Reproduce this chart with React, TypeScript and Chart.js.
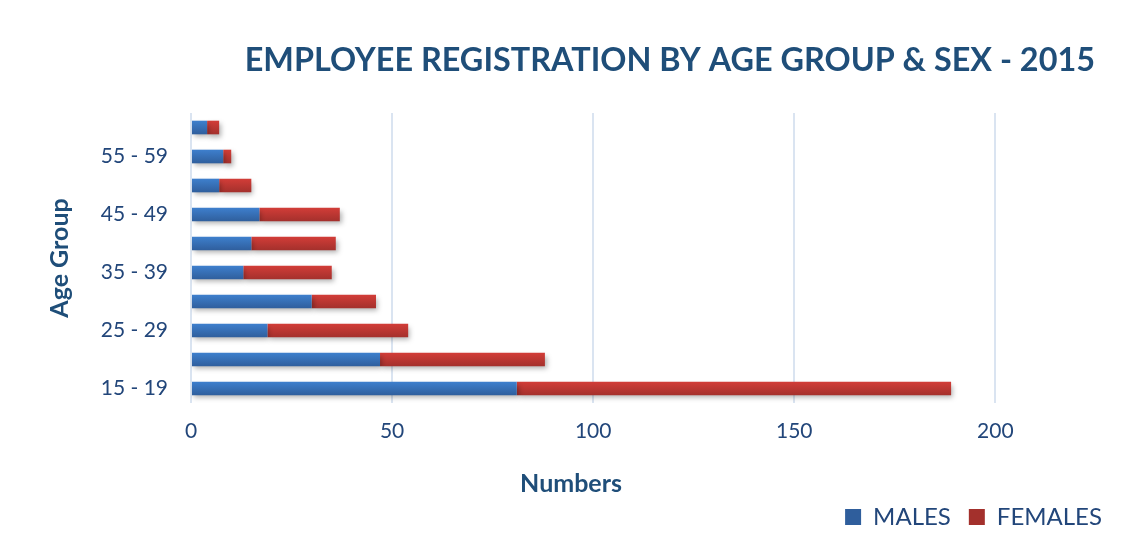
import React, { useEffect, useRef } from 'react';
import { Chart, registerables } from 'chart.js';

Chart.register(...registerables);

const TITLE = 'EMPLOYEE REGISTRATION BY AGE GROUP & SEX - 2015';
const X_TITLE = 'Numbers';
const Y_TITLE = 'Age Group';
const AGE_GROUPS = ['60 - 64', '55 - 59', '50 - 54', '45 - 49', '40 - 44', '35 - 39', '30 - 34', '25 - 29', '20 - 24', '15 - 19'];
const MALES = [4, 8, 7, 17, 15, 13, 30, 19, 47, 81];
const FEMALES = [3, 2, 8, 20, 21, 22, 16, 35, 41, 108];
const SERIES_NAMES = ['MALES', 'FEMALES'];
const X_TICK_STEP = 50;
const X_TICK_LAST = 200;
const X_AXIS_MAX = 231;
const X_TITLE_AT = 94.5;

const FONT = 'Lato';
const TITLE_COLOR = '#1F4E79';
const TICK_COLOR = '#22467A';
const GRID_COLOR = '#DAE4F1';

export default function App() {
  const ref = useRef<HTMLCanvasElement>(null);

  useEffect(() => {
    document.body.style.overflow = 'hidden';
    const canvas = ref.current;
    if (!canvas) return;

    const barFill = (top: string, bottom: string, flat: string) => (ctx: any) => {
      if (ctx.type !== 'data') return flat;
      const chart = ctx.chart;
      const y = chart.scales && chart.scales.y;
      if (!y) return flat;
      const c = y.getPixelForValue(ctx.dataIndex);
      if (!isFinite(c)) return flat;
      const g = chart.ctx.createLinearGradient(0, c - 7, 0, c + 7);
      g.addColorStop(0, top);
      g.addColorStop(1, bottom);
      return g;
    };

    const shadowPlugin = {
      id: 'barShadow',
      beforeDatasetsDraw(chart: any) {
        const c = chart.ctx;
        c.save();
        c.shadowColor = 'rgba(0,0,0,0.3)';
        c.shadowBlur = 5;
        c.shadowOffsetX = 2;
        c.shadowOffsetY = 3;
      },
      afterDatasetsDraw(chart: any) {
        chart.ctx.restore();
      },
    };

    const textPlugin = {
      id: 'customTexts',
      afterDraw(chart: any) {
        const s = chart.scales.x;
        const c = chart.ctx;
        c.save();
        c.fillStyle = TITLE_COLOR;
        c.textBaseline = 'middle';
        // chart title
        c.font = `bold 32.4px ${FONT}`;
        c.textAlign = 'right';
        c.fillText(TITLE, chart.width - 32, 53);
        // x axis title
        c.font = `bold 25px ${FONT}`;
        c.textAlign = 'center';
        c.fillText(X_TITLE, s.getPixelForValue(X_TITLE_AT), s.top + 81);
        c.restore();
      },
    };

    const chart = new Chart(canvas, {
      type: 'bar',
      data: {
        labels: AGE_GROUPS,
        datasets: [
          {
            label: SERIES_NAMES[0],
            data: MALES,
            backgroundColor: barFill('#3E80CE', '#2F5E9C', '#3670BC'),
            borderWidth: 0,
            barPercentage: 0.47,
            categoryPercentage: 1,
          },
          {
            label: SERIES_NAMES[1],
            data: FEMALES,
            backgroundColor: barFill('#D33D38', '#A3302C', '#C13834'),
            borderWidth: 0,
            barPercentage: 0.47,
            categoryPercentage: 1,
          },
        ],
      },
      options: {
        indexAxis: 'y',
        animation: false,
        responsive: true,
        maintainAspectRatio: false,
        layout: { padding: { left: 0, right: 7, top: 105, bottom: -4 } },
        scales: {
          x: {
            stacked: true,
            min: 0,
            max: X_AXIS_MAX,
            afterBuildTicks: (scale: any) => {
              scale.ticks = scale.ticks.filter((t: any) => t.value <= X_TICK_LAST);
            },
            afterFit: (scale: any) => {
              scale.height = 84;
            },
            ticks: {
              stepSize: X_TICK_STEP,
              padding: 16,
              color: TICK_COLOR,
              font: { family: FONT, size: 21 },
            },
            grid: { color: GRID_COLOR, lineWidth: 2, drawTicks: false },
            border: { display: false },
          },
          y: {
            stacked: true,
            afterFit: (scale: any) => {
              scale.width = 183;
            },
            ticks: {
              autoSkip: false,
              padding: 15,
              color: TICK_COLOR,
              font: { family: FONT, size: 21 },
              callback: (_v: any, i: number) => (i % 2 === 1 ? AGE_GROUPS[i] : ''),
            },
            grid: { display: false },
            border: { display: false },
            title: {
              display: true,
              text: Y_TITLE,
              color: TITLE_COLOR,
              font: { family: FONT, size: 25, weight: 'bold', lineHeight: 1.2 },
              padding: { top: 37, bottom: 0 },
            },
          },
        },
        plugins: {
          title: { display: false },
          legend: {
            position: 'bottom',
            align: 'end',
            labels: {
              boxWidth: 16,
              boxHeight: 16,
              padding: 18,
              color: TICK_COLOR,
              font: { family: FONT, size: 24 },
            },
          },
          tooltip: { enabled: false },
        },
      },
      plugins: [shadowPlugin, textPlugin],
    } as any);

    return () => chart.destroy();
  }, []);

  return (
    <div
      style={{
        width: 1119,
        height: 527,
        marginLeft: -2,
        marginTop: -2,
        borderLeft: '2px solid #D6E2F2',
        borderTop: '2px solid #D6E2F2',
        position: 'relative',
        background: '#fff',
      }}
    >
      <canvas ref={ref} />
    </div>
  );
}
